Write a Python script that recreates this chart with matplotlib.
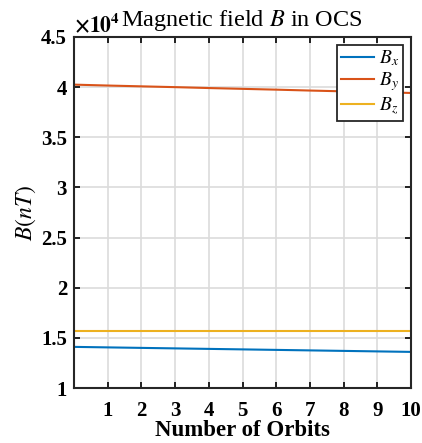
import matplotlib
matplotlib.use("Agg")
import matplotlib.pyplot as plt
from matplotlib.ticker import FuncFormatter

plt.rcParams['font.family'] = ['Liberation Serif', 'DejaVu Serif']
plt.rcParams['mathtext.fontset'] = 'stix'

# orbits and field components (nT)
orbits = [0, 1, 2, 3, 4, 5, 6, 7, 8, 9, 10]
Bx = [14100, 14050, 14000, 13950, 13900, 13850, 13800, 13750, 13700, 13650, 13600]
By = [40250, 40160, 40080, 40000, 39910, 39830, 39750, 39660, 39580, 39500, 39420]
Bz = [15700, 15700, 15700, 15700, 15700, 15700, 15700, 15700, 15700, 15700, 15700]

fig = plt.figure(figsize=(4.22, 4.43), dpi=100)
ax = fig.add_axes([74/422, 1-388/443, (411-74)/422, (388-37)/443])

ax.plot(orbits, Bx, color='#0072BD', lw=1.5, label='$B_x$')
ax.plot(orbits, By, color='#D95319', lw=1.5, label='$B_y$')
ax.plot(orbits, Bz, color='#EDB120', lw=1.5, label='$B_z$')

ax.set_xlim(0, 10)
ax.set_ylim(10000, 45000)
ax.set_xticks(range(1, 11))
ax.set_yticks([10000, 15000, 20000, 25000, 30000, 35000, 40000, 45000])
ax.yaxis.set_major_formatter(FuncFormatter(lambda v, p: '%g' % (v/1e4)))
ax.grid(True, color='#dcdcdc', lw=1.2)
ax.set_axisbelow(True)
ax.tick_params(direction='in', top=True, right=True, length=4, width=1.2,
               labelsize=15)
ax.tick_params(axis='x', pad=9)
ax.tick_params(axis='y', pad=5)
for lab in ax.get_xticklabels() + ax.get_yticklabels():
    lab.set_fontweight('bold')
for s in ax.spines.values():
    s.set_linewidth(1.5)
    s.set_color('#262626')

ax.set_xlabel('Number of Orbits', fontsize=16.5, fontweight='bold', labelpad=0)
ax.set_ylabel('$B(nT)$', fontsize=17, labelpad=2)
ax.text(0.0, 1.0, r'$\mathbf{\times 10^4}$', transform=ax.transAxes,
        fontsize=15.5, ha='left', va='bottom')
ax.text(47/337, 1.012, 'Magnetic field $B$ in OCS', transform=ax.transAxes,
        fontsize=17.5, ha='left', va='bottom')

leg = ax.legend(loc='upper right', fontsize=14, fancybox=False, framealpha=1,
                edgecolor='#262626', borderpad=0.2, labelspacing=0.1,
                handlelength=1.7, handletextpad=0.25, borderaxespad=0.4)
leg.get_frame().set_linewidth(1.3)

fig.savefig('out.png', dpi=100)
